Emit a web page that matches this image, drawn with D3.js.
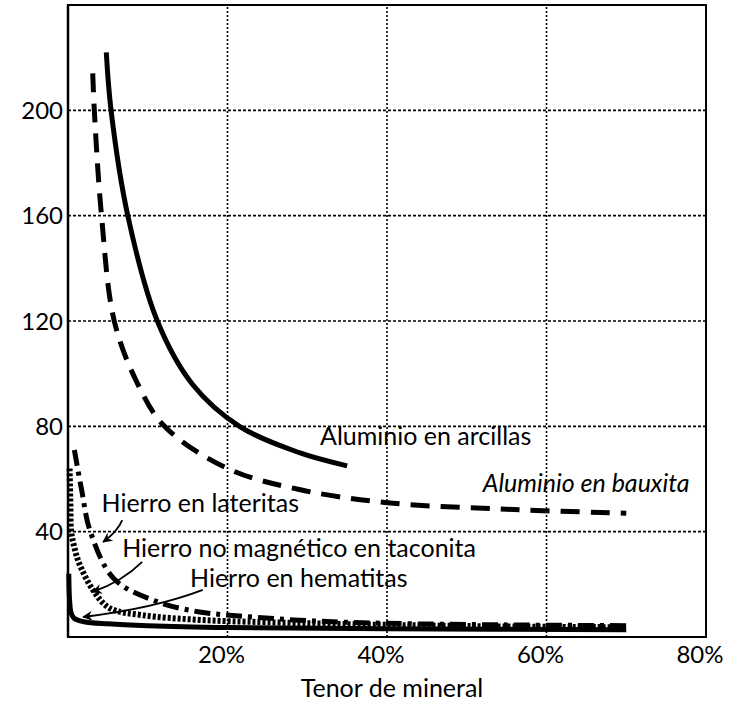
<html>
<head>
<script src="https://d3js.org/d3.v7.min.js"></script>
<style>
body { margin: 0; background: white; }
svg text { font-family: Lato, 'Open Sans', sans-serif; fill: black; }
</style>
</head>
<body>
<svg width="745" height="704"></svg>
<script>
// tick labels
const xTicks = [20, 40, 60, 80];
const yTicks = [40, 80, 120, 160, 200];

// series: [tenor %, value]
const arcillas = [[4.8, 222], [5.4, 200], [7.5, 160], [11.2, 120], [15.6, 96], [21.5, 80], [29, 70], [35, 65]];
const bauxita = [[3.1, 214], [3.3, 200], [4.2, 160], [5.8, 120], [8.6, 97], [12.1, 80], [20, 64], [29, 56], [40, 51], [55, 48.5], [70, 47]];
const lateritas = [[0.8, 71], [1.7, 56], [2.8, 40], [5.8, 22], [11.1, 13.5], [16.5, 9.5], [21.5, 8], [30, 6.2], [40, 5.2], [55, 4.6], [70, 4.3]];
const taconita = [[0.2, 64], [0.3, 50], [0.4, 40], [0.8, 34], [1.4, 28], [3.1, 18], [5.2, 11], [9.3, 8.3], [16.5, 6.5], [25, 5.6], [40, 4.6], [55, 4], [70, 3.7]];
const hematitas = [[0.1, 24], [0.2, 14], [0.4, 9], [0.8, 7], [2, 5.8], [5, 5], [10, 4.3], [20, 3.6], [40, 3.1], [70, 2.8]];

// labels [x %, value, text, style]
const labels = [
  [31.6, 73, "Aluminio en arcillas", "normal"],
  [52, 55, "Aluminio en bauxita", "italic"],
  [4.2, 47.5, "Hierro en lateritas", "normal"],
  [6.8, 30.4, "Hierro no magnético en taconita", "normal"],
  [15.3, 19, "Hierro en hematitas", "normal"]
];
// arrows: start, control, end (data units)
const arrows = [
  [[6.8, 44.4], [6.2, 40], [4.4, 36.1]],
  [[9.3, 28.5], [6.8, 21], [3.1, 17.1]],
  [[16.9, 17.9], [11, 11], [1.9, 7.6]]
];

const svg = d3.select("svg");
const x = d3.scaleLinear().domain([0, 80]).range([68, 706]);
const y = d3.scaleLinear().domain([0, 240]).range([637, 5]);

// grid
svg.append("g").selectAll("line").data(xTicks.filter(d => d < 80)).enter().append("line")
  .attr("x1", d => x(d)).attr("x2", d => x(d)).attr("y1", y(0)).attr("y2", y(240))
  .attr("stroke", "black").attr("stroke-width", 1.6).attr("stroke-dasharray", "2,2");
svg.append("g").selectAll("line").data(yTicks).enter().append("line")
  .attr("x1", x(0)).attr("x2", x(80)).attr("y1", d => y(d)).attr("y2", d => y(d))
  .attr("stroke", "black").attr("stroke-width", 1.6).attr("stroke-dasharray", "3,2");

// frame
svg.append("rect")
  .attr("x", x(0)).attr("y", y(240)).attr("width", x(80) - x(0)).attr("height", y(0) - y(240))
  .attr("fill", "none").attr("stroke", "black").attr("stroke-width", 2);
svg.append("line").attr("x1", x(0)).attr("x2", x(0)).attr("y1", y(0)).attr("y2", y(240))
  .attr("stroke", "black").attr("stroke-width", 2.5);

// tick labels
svg.append("g").selectAll("text").data(yTicks).enter().append("text")
  .attr("x", x(0) - 5).attr("y", d => y(d)).attr("dy", "0.36em")
  .attr("text-anchor", "end").style("font-size", "24px").text(d => d);
svg.append("g").selectAll("text").data(xTicks).enter().append("text")
  .attr("x", d => x(d) - 6).attr("y", 663)
  .attr("text-anchor", "middle").style("font-size", "24px").text(d => d + "%");
svg.append("text").attr("x", 392).attr("y", 697).attr("text-anchor", "middle")
  .style("font-size", "25px").text("Tenor de mineral");

// curves
const line = d3.line().x(d => x(d[0])).y(d => y(d[1])).curve(d3.curveCatmullRom);
const series = [
  [arcillas, null, 5],
  [bauxita, "19,11", 5],
  [lateritas, "16,6,4,6", 5],
  [taconita, "3,2", 6],
  [hematitas, null, 5]
];
svg.append("g").selectAll("path").data(series).enter().append("path")
  .attr("d", d => line(d[0]))
  .attr("fill", "none").attr("stroke", "black").attr("stroke-width", d => d[2])
  .attr("stroke-dasharray", d => d[1]);

// labels
svg.append("g").selectAll("text").data(labels).enter().append("text")
  .attr("x", d => x(d[0])).attr("y", d => y(d[1]))
  .style("font-size", "25px").style("font-style", d => d[3]).text(d => d[2]);

// arrows
svg.append("defs").append("marker")
  .attr("id", "head").attr("viewBox", "0 0 10 10").attr("refX", 9).attr("refY", 5)
  .attr("markerWidth", 12).attr("markerHeight", 10).attr("markerUnits", "userSpaceOnUse")
  .attr("orient", "auto")
  .append("path").attr("d", "M0,0L10,5L0,10L3,5Z").attr("fill", "black");
svg.append("g").selectAll("path").data(arrows).enter().append("path")
  .attr("d", d => `M${x(d[0][0])},${y(d[0][1])}Q${x(d[1][0])},${y(d[1][1])} ${x(d[2][0])},${y(d[2][1])}`)
  .attr("fill", "none").attr("stroke", "black").attr("stroke-width", 1.8)
  .attr("marker-end", "url(#head)");
</script>
</body>
</html>
